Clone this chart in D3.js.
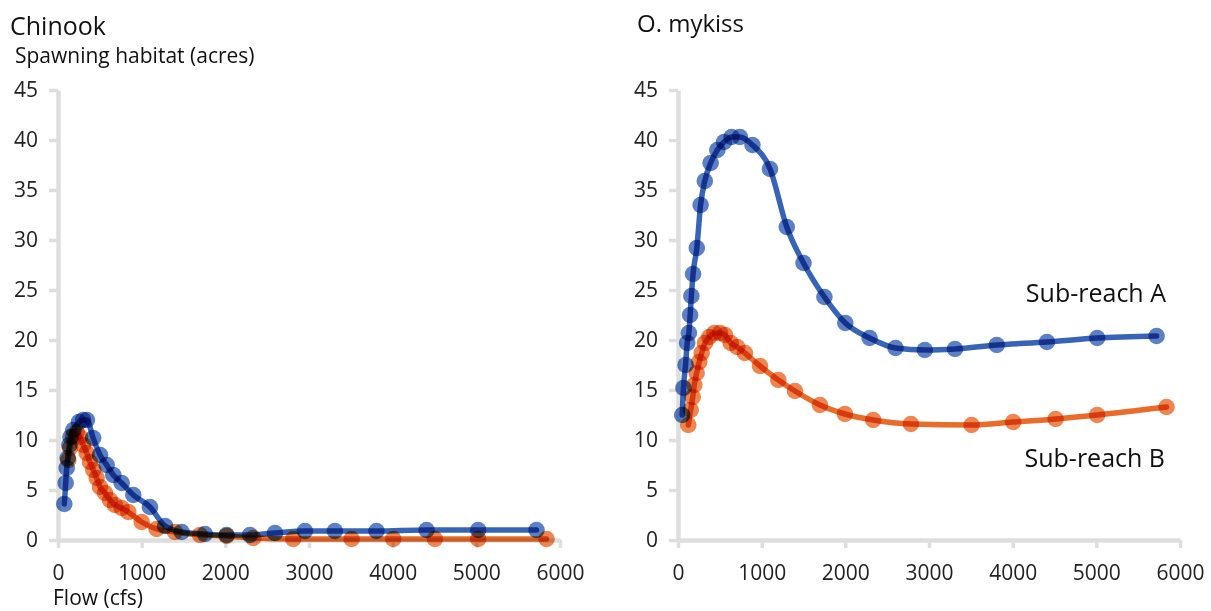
<!DOCTYPE html>
<html>
<head>
<meta charset="utf-8">
<script src="https://cdn.jsdelivr.net/npm/d3@7"></script>
<style>
  html, body { margin: 0; padding: 0; background: #fff; }
  svg { display: block; font-family: "Open Sans", "Lato", sans-serif; }
</style>
</head>
<body>
<svg id="chart" width="1211" height="611"></svg>
<script>
// ---- data ----
const flowTicks = [0, 1000, 2000, 3000, 4000, 5000, 6000];
const habitatTicks = [0, 5, 10, 15, 20, 25, 30, 35, 40, 45];
const seriesNames = ["Sub-reach A", "Sub-reach B"];

// Chinook, Sub-reach A (blue)
const chinookAFlow = [75, 92, 104, 116, 135, 150, 183, 250, 300, 345, 420, 502, 582, 661, 761, 900, 1099, 1280, 1478, 1756, 2015, 2294, 2593, 2951, 3309, 3807, 4405, 5022, 5719];
const chinookAHabitat = [3.6, 5.7, 7.2, 8.2, 9.5, 10.3, 11.0, 11.8, 12.0, 12.0, 10.2, 8.5, 7.5, 6.5, 5.7, 4.5, 3.3, 1.4, 0.8, 0.6, 0.5, 0.5, 0.7, 0.9, 0.9, 0.9, 1.0, 1.0, 1.0];
// Chinook, Sub-reach B (orange)
const chinookBFlow = [123, 143, 183, 223, 263, 302, 343, 382, 422, 462, 502, 562, 621, 681, 761, 840, 1000, 1179, 1398, 1697, 2015, 2333, 2811, 3509, 4007, 4504, 5022, 5839];
const chinookBHabitat = [8.0, 9.2, 10.3, 10.8, 10.3, 9.5, 8.7, 7.8, 7.0, 6.2, 5.3, 4.7, 4.0, 3.5, 3.2, 2.8, 1.8, 1.1, 0.8, 0.5, 0.4, 0.2, 0.1, 0.1, 0.1, 0.1, 0.1, 0.1];
// O. mykiss, Sub-reach A (blue)
const mykissAFlow = [50, 65, 90, 110, 130, 145, 160, 180, 225, 270, 320, 390, 470, 550, 640, 740, 890, 1100, 1300, 1500, 1750, 2000, 2290, 2600, 2950, 3310, 3810, 4410, 5010, 5720];
const mykissAHabitat = [12.5, 15.2, 17.5, 19.7, 20.7, 22.5, 24.4, 26.6, 29.2, 33.5, 35.9, 37.7, 39.0, 39.8, 40.3, 40.3, 39.5, 37.1, 31.3, 27.7, 24.3, 21.7, 20.2, 19.2, 19.0, 19.1, 19.5, 19.8, 20.2, 20.4];
// O. mykiss, Sub-reach B (orange)
const mykissBFlow = [123, 152, 176, 195, 223, 254, 283, 323, 374, 434, 502, 562, 630, 708, 800, 980, 1199, 1398, 1697, 1995, 2333, 2784, 3509, 4006, 4513, 5010, 5839];
const mykissBHabitat = [11.5, 13.0, 14.3, 15.5, 16.7, 17.8, 18.7, 19.7, 20.3, 20.7, 20.7, 20.5, 19.7, 19.3, 18.7, 17.4, 16.0, 14.9, 13.5, 12.6, 12.0, 11.6, 11.5, 11.8, 12.1, 12.5, 13.3];

// ---- drawing ----
const svg = d3.select("#chart");
const colors = { A: "#2c5cb3", B: "#e8641f" };

function zip(xs, ys) { return xs.map((x, i) => ({ x: x, y: ys[i] })); }

const panels = [
  { x0: 58, x1: 560, series: [
      { key: "A", data: zip(chinookAFlow, chinookAHabitat) },
      { key: "B", data: zip(chinookBFlow, chinookBHabitat) } ] },
  { x0: 678, x1: 1180, series: [
      { key: "A", data: zip(mykissAFlow, mykissAHabitat) },
      { key: "B", data: zip(mykissBFlow, mykissBHabitat) } ] }
];

panels.forEach(p => {
  const x = d3.scaleLinear().domain([0, 6000]).range([p.x0, p.x1]);
  const y = d3.scaleLinear().domain([0, 45]).range([540, 90]);
  const g = svg.append("g");

  const yAx = g.append("g").attr("transform", `translate(${p.x0},0)`)
    .call(d3.axisLeft(y).tickValues(habitatTicks).tickSize(9).tickSizeOuter(0).tickPadding(11));
  const xAx = g.append("g").attr("transform", `translate(0,540)`)
    .call(d3.axisBottom(x).tickValues(flowTicks).tickFormat(d3.format("d")).tickSize(8).tickSizeOuter(0).tickPadding(17));
  [yAx, xAx].forEach(a => {
    a.select(".domain").attr("stroke", "#dedede").attr("stroke-width", 4.5);
    a.selectAll(".tick line").attr("stroke", "#dedede").attr("stroke-width", 3.5);
    a.selectAll(".tick text").attr("fill", "#222").style("font-size", "21px")
      .style("font-family", '"Open Sans", sans-serif');
  });

  const line = d3.line().x(d => x(d.x)).y(d => y(d.y)).curve(d3.curveMonotoneX);
  p.series.forEach(s => {
    const sg = g.append("g");
    sg.append("path").datum(s.data).attr("d", line)
      .attr("fill", "none").attr("stroke", colors[s.key]).attr("stroke-width", 5.5)
      .attr("stroke-linejoin", "round").attr("stroke-linecap", "round")
      .attr("opacity", 0.95).style("mix-blend-mode", "multiply");
    sg.selectAll("circle").data(s.data).join("circle")
      .attr("cx", d => x(d.x)).attr("cy", d => y(d.y)).attr("r", 8.3)
      .attr("fill", colors[s.key]).attr("opacity", 0.78)
      .style("mix-blend-mode", "multiply");
  });
});

// ---- text ----
const txt = (s, x, yy, size, anchor) => svg.append("text").text(s)
  .attr("x", x).attr("y", yy).attr("fill", "#111")
  .style("font-size", size + "px").attr("text-anchor", anchor || "start");
txt("Chinook", 10, 35, 25);
txt("Spawning habitat (acres)", 15, 63, 21);
txt("Flow (cfs)", 53, 605, 21);
txt("O. mykiss", 637, 32, 24);
txt(seriesNames[0], 1166, 302, 25, "end");
txt(seriesNames[1], 1165, 467, 25, "end");
</script>
</body>
</html>
